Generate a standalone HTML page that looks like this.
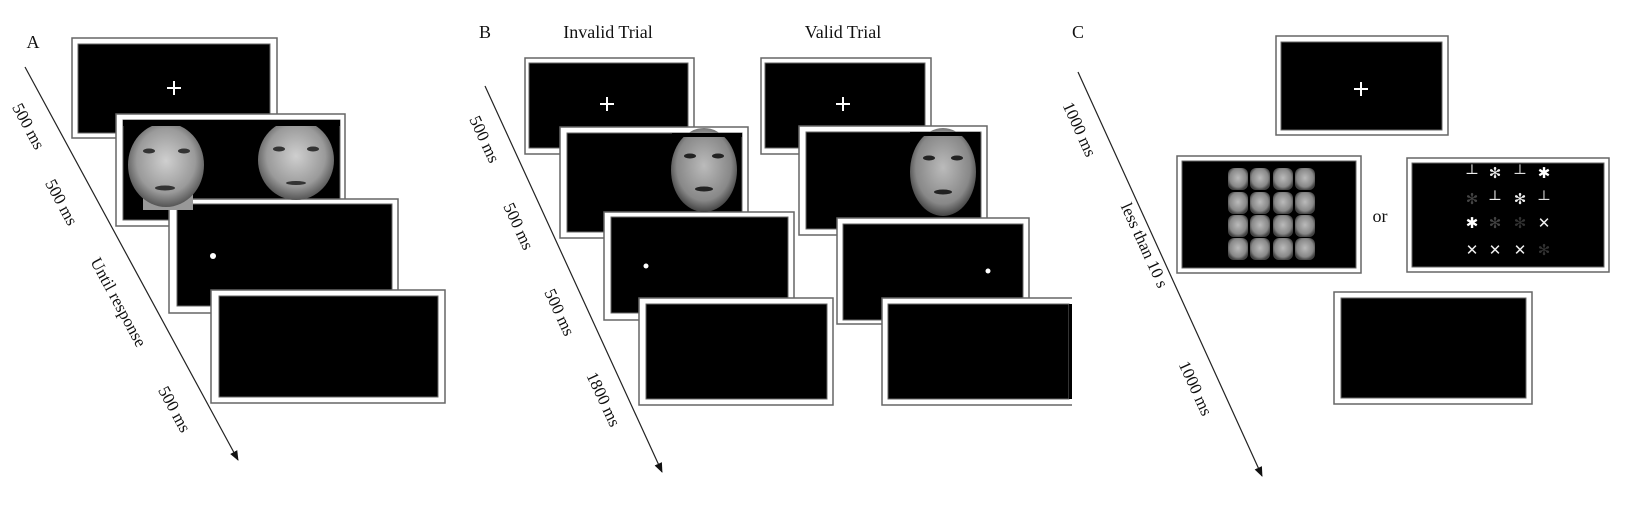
<!DOCTYPE html>
<html><head><meta charset="utf-8"><style>
html,body{margin:0;padding:0;background:#fff;}
svg text{font-family:"Liberation Serif",serif;fill:#111;}
</style></head><body>
<svg width="1626" height="500" viewBox="0 0 1626 500" xmlns="http://www.w3.org/2000/svg">
<defs>
<marker id="ah" markerWidth="10" markerHeight="10" refX="9" refY="5" orient="auto" markerUnits="userSpaceOnUse">
<path d="M0,1 L10,5 L0,9 z" fill="#111"/></marker>
<radialGradient id="fg" cx="50%" cy="45%" r="55%"><stop offset="0" stop-color="#cfcfcf"/><stop offset="0.7" stop-color="#9a9a9a"/><stop offset="1" stop-color="#555"/></radialGradient>
<radialGradient id="fg2" cx="50%" cy="45%" r="55%"><stop offset="0" stop-color="#bbb"/><stop offset="0.75" stop-color="#888"/><stop offset="1" stop-color="#444"/></radialGradient>
</defs>
<g stroke="#666" stroke-width="1.5">
<rect x="72" y="38" width="205" height="100" fill="#fff"/><rect x="78" y="44" width="192" height="89" fill="#000" stroke-width="1"/>
<rect x="116" y="114" width="229" height="112" fill="#fff"/><rect x="123" y="120" width="217" height="100" fill="#000" stroke-width="1"/>
<rect x="169" y="199" width="229" height="114" fill="#fff"/><rect x="177" y="204" width="215" height="102" fill="#000" stroke-width="1"/>
<rect x="211" y="290" width="234" height="113" fill="#fff"/><rect x="219" y="296" width="219" height="101" fill="#000" stroke-width="1"/>
<rect x="525" y="58" width="169" height="96" fill="#fff"/><rect x="529" y="63" width="159" height="85" fill="#000" stroke-width="1"/>
<rect x="560" y="127" width="188" height="111" fill="#fff"/><rect x="567" y="133" width="175" height="99" fill="#000" stroke-width="1"/>
<rect x="604" y="212" width="190" height="108" fill="#fff"/><rect x="611" y="217" width="177" height="96" fill="#000" stroke-width="1"/>
<rect x="639" y="298" width="194" height="107" fill="#fff"/><rect x="646" y="304" width="181" height="95" fill="#000" stroke-width="1"/>
<rect x="761" y="58" width="170" height="96" fill="#fff"/><rect x="765" y="63" width="160" height="85" fill="#000" stroke-width="1"/>
<rect x="799" y="126" width="188" height="109" fill="#fff"/><rect x="806" y="132" width="175" height="97" fill="#000" stroke-width="1"/>
<rect x="837" y="218" width="192" height="106" fill="#fff"/><rect x="843" y="224" width="180" height="96" fill="#000" stroke-width="1"/>
<rect x="882" y="298" width="200" height="107" fill="#fff"/><rect x="888" y="304" width="181" height="95" fill="#000" stroke-width="1"/>
<rect x="1276" y="36" width="172" height="99" fill="#fff"/><rect x="1281" y="42" width="161" height="88" fill="#000" stroke-width="1"/>
<rect x="1177" y="156" width="184" height="117" fill="#fff"/><rect x="1182" y="161" width="174" height="107" fill="#000" stroke-width="1"/>
<rect x="1407" y="158" width="202" height="114" fill="#fff"/><rect x="1412" y="163" width="192" height="104" fill="#000" stroke-width="1"/>
<rect x="1334" y="292" width="198" height="112" fill="#fff"/><rect x="1341" y="298" width="185" height="100" fill="#000" stroke-width="1"/>
</g>
<rect x="1072" y="294" width="16" height="116" fill="#fff"/>
<rect x="1069" y="304" width="3" height="95" fill="#000"/>
<g stroke="#fff" stroke-width="2">
<path d="M167,88 h14 M174,81 v14"/>
<path d="M600,104 h14 M607,97 v14"/>
<path d="M836,104 h14 M843,97 v14"/>
<path d="M1354,89 h14 M1361,82 v14"/>
</g>
<g fill="#fff"><circle cx="213" cy="256" r="3"/><circle cx="646" cy="266" r="2.5"/><circle cx="988" cy="271" r="2.5"/></g>
<rect x="143" y="190" width="50" height="20" fill="#999"/>
<ellipse cx="166" cy="165" rx="38" ry="42" fill="url(#fg)"/>
<ellipse cx="296" cy="160" rx="38" ry="40" fill="url(#fg)"/>
<rect x="123" y="120" width="217" height="6" fill="#000"/>
<g fill="#333"><ellipse cx="149" cy="151" rx="6" ry="2.5"/><ellipse cx="184" cy="151" rx="6" ry="2.5"/><ellipse cx="279" cy="149" rx="6" ry="2.5"/><ellipse cx="313" cy="149" rx="6" ry="2.5"/>
<ellipse cx="165" cy="188" rx="10" ry="2.5"/><ellipse cx="296" cy="183" rx="10" ry="2"/></g>
<ellipse cx="704" cy="170" rx="33" ry="42" fill="url(#fg2)"/>
<rect x="672" y="133" width="70" height="4" fill="#000"/>
<ellipse cx="943" cy="172" rx="33" ry="44" fill="url(#fg2)"/>
<rect x="910" y="132" width="70" height="4" fill="#000"/>
<g fill="#222"><ellipse cx="690" cy="156" rx="6" ry="2.5"/><ellipse cx="718" cy="156" rx="6" ry="2.5"/><ellipse cx="704" cy="189" rx="9" ry="2.5"/>
<ellipse cx="929" cy="158" rx="6" ry="2.5"/><ellipse cx="957" cy="158" rx="6" ry="2.5"/><ellipse cx="943" cy="192" rx="9" ry="2.5"/></g>
<g fill="url(#fg2)">
<rect x="1228" y="168" width="20" height="22" rx="6"/><rect x="1250" y="168" width="20" height="22" rx="6"/><rect x="1273" y="168" width="20" height="22" rx="6"/><rect x="1295" y="168" width="20" height="22" rx="6"/>
<rect x="1228" y="192" width="20" height="22" rx="6"/><rect x="1250" y="192" width="20" height="22" rx="6"/><rect x="1273" y="192" width="20" height="22" rx="6"/><rect x="1295" y="192" width="20" height="22" rx="6"/>
<rect x="1228" y="215" width="20" height="22" rx="6"/><rect x="1250" y="215" width="20" height="22" rx="6"/><rect x="1273" y="215" width="20" height="22" rx="6"/><rect x="1295" y="215" width="20" height="22" rx="6"/>
<rect x="1228" y="238" width="20" height="22" rx="6"/><rect x="1250" y="238" width="20" height="22" rx="6"/><rect x="1273" y="238" width="20" height="22" rx="6"/><rect x="1295" y="238" width="20" height="22" rx="6"/>
</g>
<g font-family="DejaVu Sans,sans-serif" font-size="15" text-anchor="middle" fill="#eee">
<text x="1472" y="178" style="fill:#eee">┴</text><text x="1495" y="178" style="fill:#eee">✻</text><text x="1520" y="178" style="fill:#ddd">┴</text><text x="1544" y="178" style="fill:#fff">✱</text>
<text x="1472" y="204" style="fill:#444">✻</text><text x="1495" y="204" style="fill:#eee">┴</text><text x="1520" y="204" style="fill:#eee">✻</text><text x="1544" y="204" style="fill:#ddd">┴</text>
<text x="1472" y="228" style="fill:#fff">✱</text><text x="1495" y="228" style="fill:#444">✻</text><text x="1520" y="228" style="fill:#333">✻</text><text x="1544" y="228" style="fill:#eee">✕</text>
<text x="1472" y="255" style="fill:#eee">✕</text><text x="1495" y="255" style="fill:#eee">✕</text><text x="1520" y="255" style="fill:#eee">✕</text><text x="1544" y="255" style="fill:#333">✻</text>
</g>
<g stroke="#222" stroke-width="1.2" fill="none">
<line x1="25" y1="67" x2="238" y2="460" marker-end="url(#ah)"/>
<line x1="485" y1="86" x2="662" y2="472" marker-end="url(#ah)"/>
<line x1="1078" y1="72" x2="1262" y2="476" marker-end="url(#ah)"/>
</g>
<g font-size="18">
<text x="33" y="48" text-anchor="middle">A</text>
<text x="485" y="38" text-anchor="middle">B</text>
<text x="1078" y="38" text-anchor="middle">C</text>
<text x="608" y="38" text-anchor="middle">Invalid Trial</text>
<text x="843" y="38" text-anchor="middle">Valid Trial</text>
<text x="1380" y="222" text-anchor="middle">or</text>
</g>
<g font-size="17" text-anchor="middle" dominant-baseline="middle">
<text transform="translate(27,127) rotate(61.5)">500 ms</text>
<text transform="translate(60,203) rotate(61.5)">500 ms</text>
<text transform="translate(117,303) rotate(61.5)">Until response</text>
<text transform="translate(173,410) rotate(61.5)">500 ms</text>
<text transform="translate(483,140) rotate(65)">500 ms</text>
<text transform="translate(517,227) rotate(65)">500 ms</text>
<text transform="translate(558,313) rotate(65)">500 ms</text>
<text transform="translate(602,400) rotate(65)">1800 ms</text>
<text transform="translate(1078,130) rotate(65.5)">1000 ms</text>
<text transform="translate(1143,246) rotate(65.5)">less than 10 s</text>
<text transform="translate(1194,389) rotate(65.5)">1000 ms</text>
</g>
</svg>
</body></html>
